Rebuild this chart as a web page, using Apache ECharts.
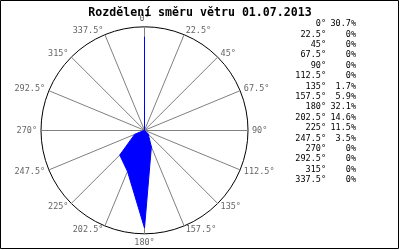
<!DOCTYPE html>
<html>
<head>
<meta charset="utf-8">
<script src="https://cdn.jsdelivr.net/npm/echarts@6/dist/echarts.min.js"></script>
<style>html,body{margin:0;padding:0;background:#fff}#c{width:400px;height:250px}</style>
</head>
<body>
<div id="c"></div>
<script>
const titleText = 'Rozdělení směru větru 01.07.2013';
const directions = [0, 22.5, 45, 67.5, 90, 112.5, 135, 157.5, 180, 202.5, 225, 247.5, 270, 292.5, 315, 337.5];
const percents = [30.7, 0, 0, 0, 0, 0, 1.7, 5.9, 32.1, 14.6, 11.5, 3.5, 0, 0, 0, 0];
const radiusMax = 34;

// ECharts radar lays indicators counter-clockwise; reorder so that directions run clockwise
const order = directions.map((d, i) => (directions.length - i) % directions.length);
const indicators = order.map(i => ({ name: directions[i] + '°', max: radiusMax, min: 0 }));
const values = order.map(i => percents[i]);

const FONT = 'DejaVu Sans Mono';
const tableTexts = [];
directions.forEach((d, i) => {
  const y = 24 + i * 10.4;
  tableTexts.push({ type: 'text', x: 326, y: y, style: { text: d + '°', align: 'right', verticalAlign: 'middle', fill: '#000', font: '8.5px "' + FONT + '"' } });
  tableTexts.push({ type: 'text', x: 356, y: y, style: { text: percents[i] + '%', align: 'right', verticalAlign: 'middle', fill: '#000', font: '8.5px "' + FONT + '"' } });
});

const chart = echarts.init(document.getElementById('c'), null, { renderer: 'canvas' });
chart.setOption({
  animation: false,
  backgroundColor: '#fff',
  title: {
    text: titleText, left: 'center', top: 2,
    textStyle: { fontFamily: FONT, fontWeight: 'bold', fontSize: 11.6, color: '#000' }
  },
  radar: {
    center: [144.5, 130.3],
    radius: 103.5,
    startAngle: 90,
    shape: 'circle',
    splitNumber: 1,
    nameGap: 4,
    axisName: { color: '#666', fontFamily: FONT, fontSize: 8.5 },
    axisLine: { show: true, lineStyle: { color: '#808080', width: 1 } },
    splitLine: { show: true, lineStyle: { color: '#000', width: 1 } },
    splitArea: { show: false },
    axisTick: { show: false },
    axisLabel: { show: false },
    indicator: indicators
  },
  series: [{
    type: 'radar',
    symbol: 'none',
    lineStyle: { color: '#0000ff', width: 1 },
    areaStyle: { color: '#0000ff', opacity: 1 },
    data: [{ value: values }]
  }],
  graphic: [
    { type: 'rect', shape: { x: 0.5, y: 0.5, width: 398, height: 248 }, style: { fill: 'none', stroke: '#000', lineWidth: 1 } }
  ].concat(tableTexts)
});
</script>
</body>
</html>
